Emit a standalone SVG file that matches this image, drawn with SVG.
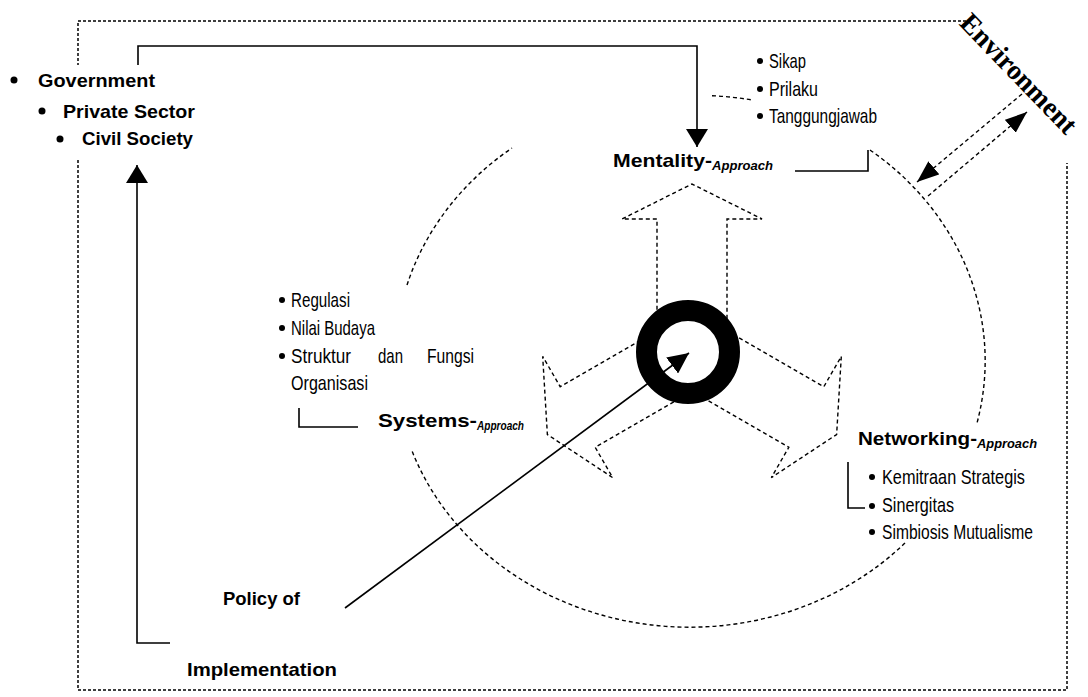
<svg xmlns="http://www.w3.org/2000/svg" width="1088" height="697" viewBox="0 0 1088 697">
<defs>
<style>
.frame{fill:none;stroke:#000;stroke-width:1.5;stroke-dasharray:3 2}
.dash{fill:none;stroke:#000;stroke-width:1.4;stroke-dasharray:4 3}
.solid{fill:none;stroke:#000;stroke-width:1.6}
.b{font-family:"Liberation Sans",Arial,sans-serif;font-weight:bold;font-size:19px;fill:#000}
.sub{font-family:"Liberation Sans",Arial,sans-serif;font-weight:bold;font-style:italic;font-size:12px;fill:#000}
.c{font-family:"Liberation Sans",Arial,sans-serif;font-size:21px;fill:#000}
.env{font-family:"Liberation Serif","Times New Roman",serif;font-weight:bold;font-size:28px;fill:#000}
.dot{fill:#000}
</style>
<marker id="mA" markerUnits="userSpaceOnUse" viewBox="0 0 18 22" markerWidth="18" markerHeight="22" refX="18" refY="11" orient="auto"><path d="M0,0 L18,11 L0,22 Z" fill="#000" stroke="none"/></marker>
<marker id="mP" markerUnits="userSpaceOnUse" viewBox="0 0 21 20" markerWidth="21" markerHeight="20" refX="21" refY="10" orient="auto"><path d="M0,0 L21,10 L0,20 Z" fill="#000" stroke="none"/></marker>
<marker id="mE" markerUnits="userSpaceOnUse" viewBox="0 0 22 17" markerWidth="22" markerHeight="17" refX="22" refY="8.5" orient="auto"><path d="M0,0 L22,8.5 L0,17 Z" fill="#000" stroke="none"/></marker>
<path id="arm" d="M-35,-20.2 V-132 H-70 L0,-167 L70,-132 H35 V-20.2"/>
</defs>

<g id="frame">
<path class="frame" d="M966,21 H78 V65 M78,160 V690 H1067 V163"/>
</g>

<g id="bigcircle">
<path class="dash" d="M407,285 A295,266 0 0,1 512,148"/>
<path class="dash" d="M712,95.7 A295,266 0 0,1 752,100"/>
<path class="dash" d="M870,150 A295,266 0 0,1 977,423"/>
<path class="dash" d="M905,543 A295,266 0 0,1 412,451"/>
</g>

<g id="tri-arrow" transform="translate(692,351)">
<use href="#arm" class="dash"/>
<use href="#arm" class="dash" transform="rotate(120)"/>
<use href="#arm" class="dash" transform="rotate(240)"/>
</g>

<g id="connectors">
<path class="solid" d="M138,65 V46 H697 V147" marker-end="url(#mA)"/>
<path class="solid" d="M170,643 H137 V165" marker-end="url(#mA)"/>
<path class="solid" d="M345,608 L689,353" marker-end="url(#mP)"/>
<path class="dash" d="M1022,94 L917,182" marker-end="url(#mE)"/>
<path class="dash" d="M928,196 L1027,112" marker-end="url(#mE)"/>
<path class="solid" d="M795,171 H868 V150"/>
<path class="solid" d="M299,408 V427 H358"/>
<path class="solid" d="M848,462 V508 H865"/>
</g>

<g id="center-ring">
<circle cx="688" cy="352" r="41.5" fill="none" stroke="#000" stroke-width="21"/>
</g>

<g id="actors">
<circle class="dot" cx="14" cy="80" r="3.5"/>
<text class="b" x="38" y="87" textLength="117" lengthAdjust="spacingAndGlyphs">Government</text>
<circle class="dot" cx="42" cy="111" r="3.5"/>
<text class="b" x="63" y="118" textLength="132" lengthAdjust="spacingAndGlyphs">Private Sector</text>
<circle class="dot" cx="60" cy="139" r="3.5"/>
<text class="b" x="82" y="145" textLength="111" lengthAdjust="spacingAndGlyphs">Civil Society</text>
</g>

<g id="environment">
<text class="env" transform="translate(1012,80) rotate(46)" text-anchor="middle" textLength="155" lengthAdjust="spacingAndGlyphs">Environment</text>
</g>

<g id="mentality">
<text class="b" x="613" y="167" textLength="99" lengthAdjust="spacingAndGlyphs">Mentality-</text>
<text class="sub" x="712" y="170" textLength="61" lengthAdjust="spacingAndGlyphs">Approach</text>
<circle class="dot" cx="760" cy="61" r="3"/>
<text class="c" x="769" y="68" textLength="37" lengthAdjust="spacingAndGlyphs">Sikap</text>
<circle class="dot" cx="760" cy="89" r="3"/>
<text class="c" x="769" y="96" textLength="49" lengthAdjust="spacingAndGlyphs">Prilaku</text>
<circle class="dot" cx="760" cy="116" r="3"/>
<text class="c" x="769" y="123" textLength="108" lengthAdjust="spacingAndGlyphs">Tanggungjawab</text>
</g>

<g id="systems">
<circle class="dot" cx="282" cy="300" r="3"/>
<text class="c" x="291" y="307" textLength="59" lengthAdjust="spacingAndGlyphs">Regulasi</text>
<circle class="dot" cx="282" cy="328" r="3"/>
<text class="c" x="291" y="335" textLength="84" lengthAdjust="spacingAndGlyphs">Nilai Budaya</text>
<circle class="dot" cx="282" cy="356" r="3"/>
<text class="c" x="291" y="363" textLength="60" lengthAdjust="spacingAndGlyphs">Struktur</text>
<text class="c" x="378" y="363" textLength="25" lengthAdjust="spacingAndGlyphs">dan</text>
<text class="c" x="427" y="363" textLength="47" lengthAdjust="spacingAndGlyphs">Fungsi</text>
<text class="c" x="291" y="390" textLength="77" lengthAdjust="spacingAndGlyphs">Organisasi</text>
<text class="b" x="378" y="427" textLength="99" lengthAdjust="spacingAndGlyphs">Systems-</text>
<text class="sub" x="477" y="430" textLength="47" lengthAdjust="spacingAndGlyphs">Approach</text>
</g>

<g id="networking">
<text class="b" x="858" y="445" textLength="119" lengthAdjust="spacingAndGlyphs">Networking-</text>
<text class="sub" x="977" y="448" textLength="60" lengthAdjust="spacingAndGlyphs">Approach</text>
<circle class="dot" cx="872" cy="477" r="3"/>
<text class="c" x="882" y="484" textLength="143" lengthAdjust="spacingAndGlyphs">Kemitraan Strategis</text>
<circle class="dot" cx="872" cy="506" r="3"/>
<text class="c" x="882" y="512" textLength="72" lengthAdjust="spacingAndGlyphs">Sinergitas</text>
<circle class="dot" cx="872" cy="532" r="3"/>
<text class="c" x="882" y="539" textLength="151" lengthAdjust="spacingAndGlyphs">Simbiosis Mutualisme</text>
</g>

<g id="policy">
<text class="b" x="223" y="605" textLength="77" lengthAdjust="spacingAndGlyphs">Policy of</text>
<text class="b" x="187" y="676" textLength="150" lengthAdjust="spacingAndGlyphs">Implementation</text>
</g>
</svg>
